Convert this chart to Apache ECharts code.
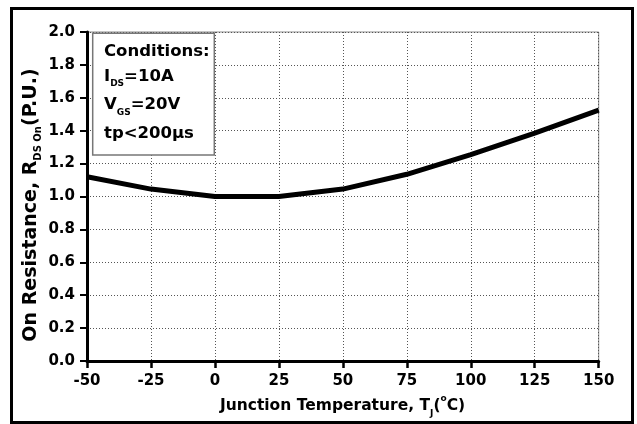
<!DOCTYPE html>
<html>
<head>
<meta charset="utf-8">
<script src="https://cdn.jsdelivr.net/npm/echarts@6/dist/echarts.min.js"></script>
<style>
html,body{margin:0;padding:0;background:#fff;}
#c{width:637px;height:424px;}
</style>
</head>
<body>
<div id="c"></div>
<script>
// Data
const temps = [-50, -25, 0, 25, 50, 75, 100, 125, 150];
const rdsOn = [1.12, 1.045, 1.0, 1.0, 1.045, 1.135, 1.255, 1.385, 1.525];
const conditionLines = ['Conditions:', ['I', 'DS', '=10A'], ['V', 'GS', '=20V'], 'tp<200\u00b5s'];

const FONT = 'DejaVu Sans';
const chart = echarts.init(document.getElementById('c'), null, {renderer: 'canvas'});

const richMain = (size) => ({
  m: {fill: '#000', fontFamily: FONT, fontWeight: 'bold', fontSize: size, lineHeight: 24, verticalAlign: 'middle'},
  s: {fill: '#000', fontFamily: FONT, fontWeight: 'bold', fontSize: 9, lineHeight: 8, verticalAlign: 'bottom'},
  p: {fill: '#000', fontFamily: FONT, fontWeight: 'bold', fontSize: 9, lineHeight: 8, verticalAlign: 'top'}
});

const condY = [51.5, 76.5, 105, 133.5];
const condTexts = conditionLines.map((ln, i) => {
  let txt;
  if (Array.isArray(ln)) txt = '{m|' + ln[0] + '}{s|' + ln[1] + '}{m|' + ln[2] + '}';
  else txt = '{m|' + ln + '}';
  return {
    type: 'text', z: 20, x: 104, y: condY[i],
    style: {text: txt, rich: richMain(16.5), align: 'left', verticalAlign: 'middle', fill: '#000'}
  };
});

const option = {
  backgroundColor: '#fff',
  animation: false,
  grid: {left: 87, right: 38.3, top: 32, bottom: 63, show: true, borderColor: '#8a8a8a', borderWidth: 1, backgroundColor: 'transparent'},
  xAxis: {
    type: 'value', min: -50, max: 150, interval: 25,
    axisLine: {show: true, onZero: false, lineStyle: {color: '#000', width: 3}},
    axisTick: {show: true, inside: false, length: 7, lineStyle: {color: '#000', width: 2.5}},
    axisLabel: {color: '#000', fontFamily: FONT, fontWeight: 'bold', fontSize: 15, margin: 13},
    splitLine: {show: true, lineStyle: {color: '#555', width: 1, type: [1, 2]}}
  },
  yAxis: {
    type: 'value', min: 0, max: 2, interval: 0.2,
    axisLine: {show: true, onZero: false, lineStyle: {color: '#000', width: 3}},
    axisTick: {show: true, inside: false, length: 7, lineStyle: {color: '#000', width: 2}},
    axisLabel: {color: '#000', fontFamily: FONT, fontWeight: 'bold', fontSize: 15, margin: 12,
      formatter: (v) => v.toFixed(1)},
    splitLine: {show: true, lineStyle: {color: '#555', width: 1, type: [1, 2]}}
  },
  series: [{
    type: 'line',
    data: temps.map((t, i) => [t, rdsOn[i]]),
    showSymbol: false,
    lineStyle: {color: '#000', width: 5},
    z: 5
  }],
  graphic: [
    {type: 'rect', z: 30, silent: true, shape: {x: 11.5, y: 8.5, width: 621, height: 414},
      style: {fill: 'none', stroke: '#000', lineWidth: 3}},
    {type: 'rect', z: 15, shape: {x: 92.7, y: 33.3, width: 121.6, height: 121.7},
      style: {fill: '#fff', stroke: '#777', lineWidth: 1.5}},
    ...condTexts,
    {type: 'text', z: 20, x: 342.5, y: 406,
      style: {text: '{m|Junction Temperature, T}{s|J}{m|(}{p|o}{m|C)}', rich: richMain(15.5), align: 'center', verticalAlign: 'middle', fill: '#000'}},
    {type: 'text', z: 20, x: 31, y: 205, rotation: Math.PI / 2,
      style: {text: '{m|On Resistance, R}{s|DS On}{m|(P.U.)}', rich: Object.assign(richMain(19), {s: {fill: '#000', fontFamily: FONT, fontWeight: 'bold', fontSize: 10, lineHeight: 8, verticalAlign: 'bottom'}}), align: 'center', verticalAlign: 'middle', fill: '#000'}}
  ]
};
chart.setOption(option);
</script>
</body>
</html>
